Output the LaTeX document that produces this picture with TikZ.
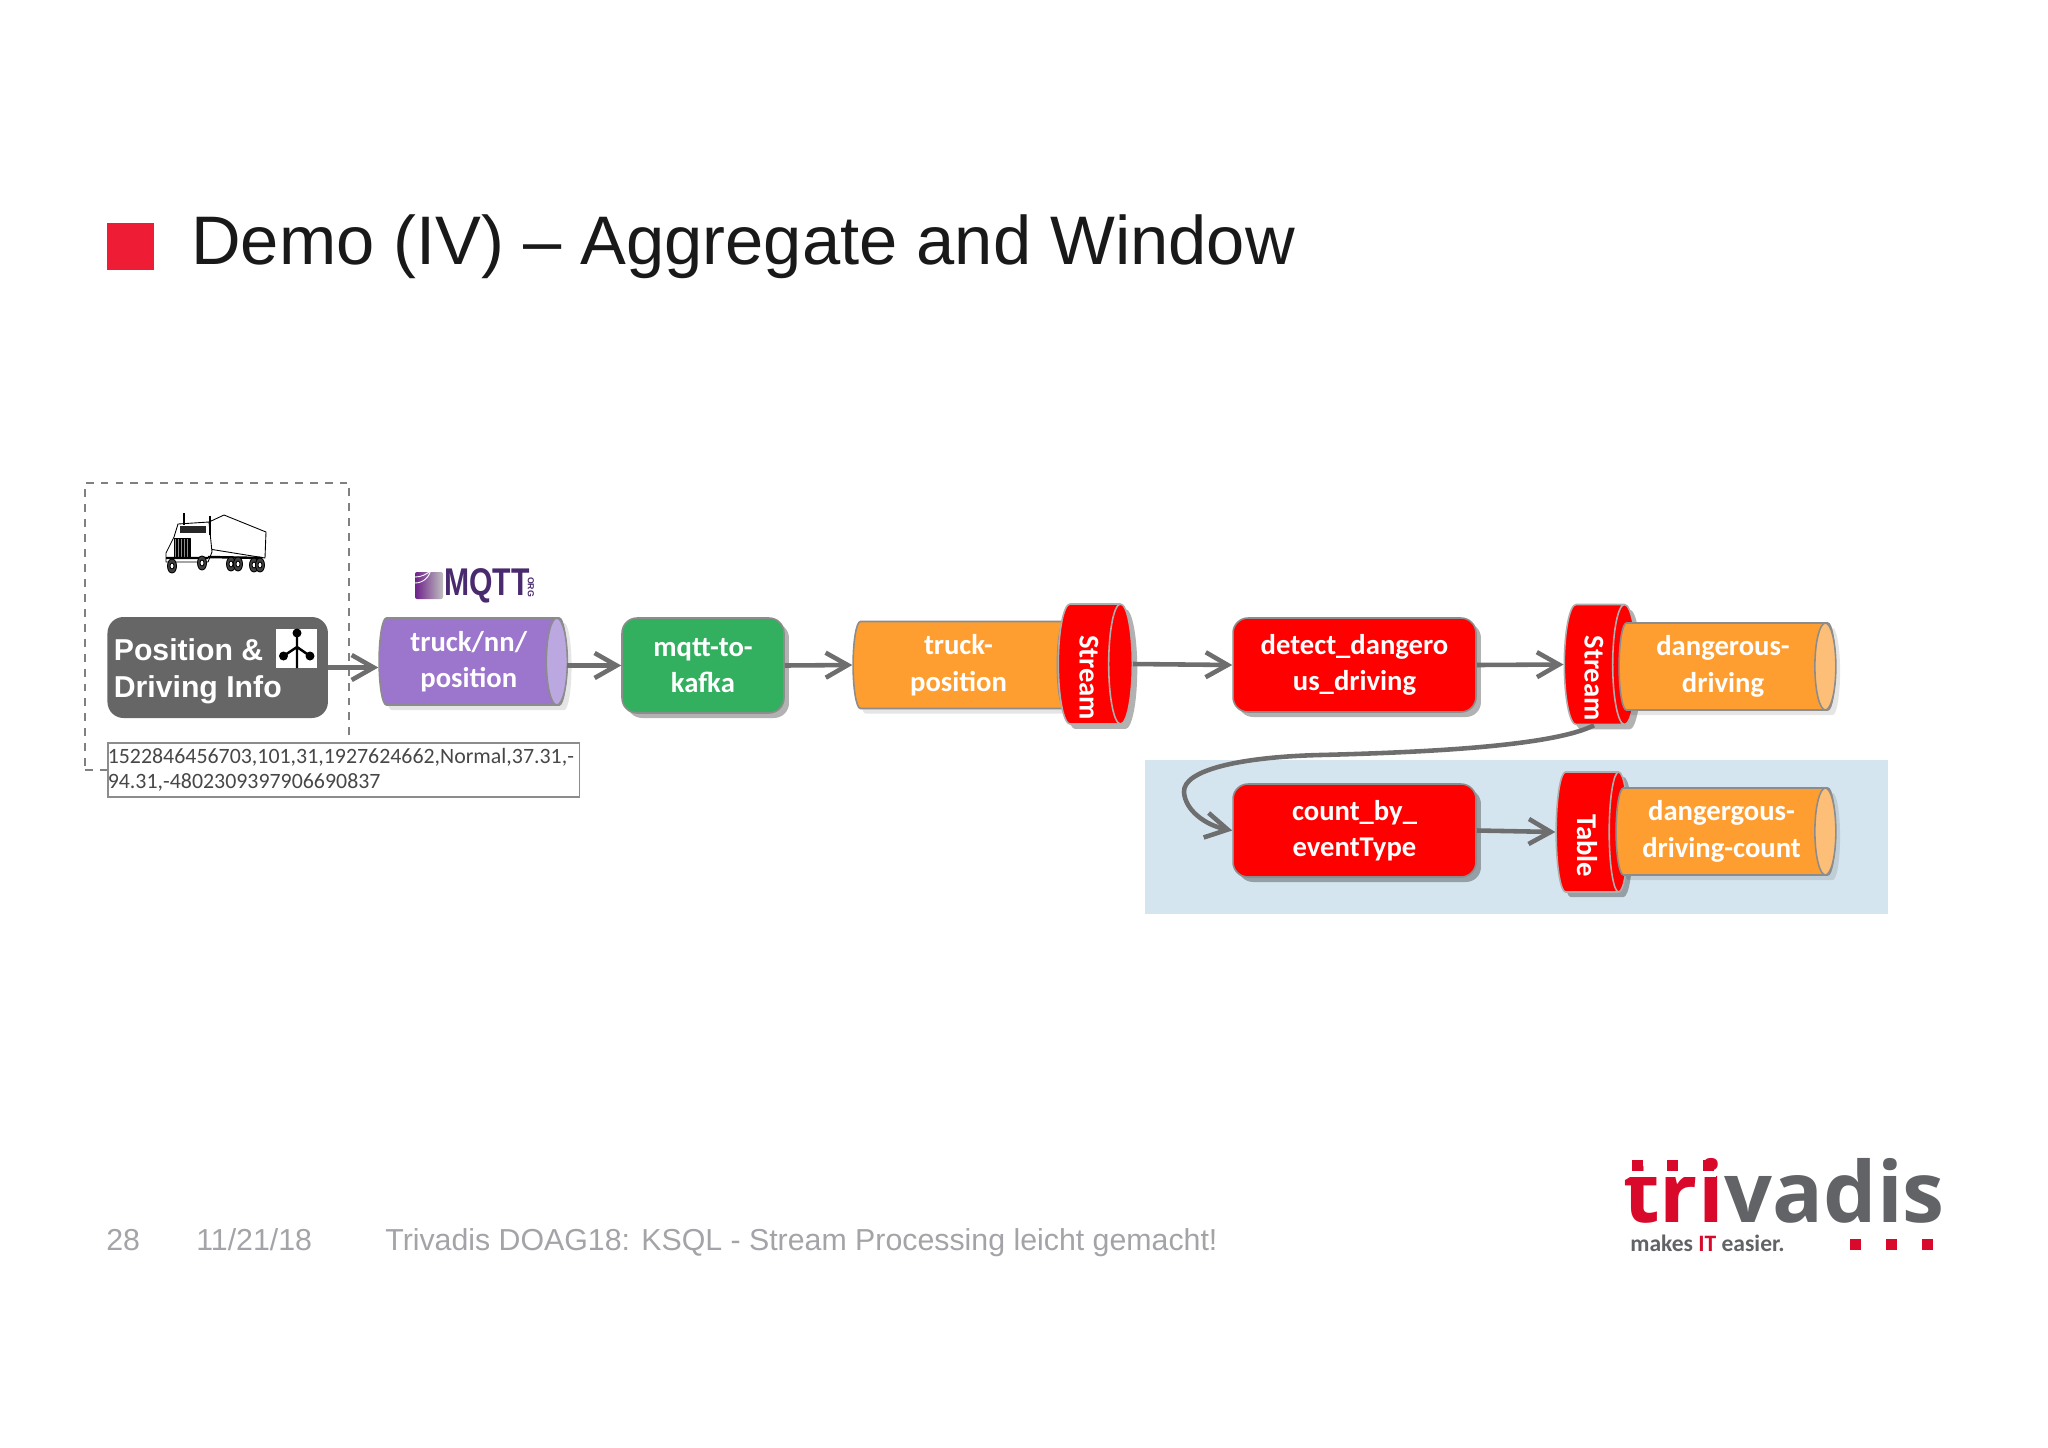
\documentclass[tikz,border=0pt]{standalone}
\usepackage{fontspec}
\setmainfont{Carlito}
\newfontfamily\slidefont{Liberation Sans}
\newfontfamily\logofont{Open Sans}
\usetikzlibrary{fit}
\usetikzlibrary{calc}
\usetikzlibrary{positioning}
\usetikzlibrary{arrows.meta}
\usetikzlibrary{shadows}
\usetikzlibrary{shapes.geometric}
\definecolor{trired}{HTML}{EE1C35}
\definecolor{logored}{HTML}{D9092C}
\definecolor{logogray}{HTML}{626366}
\definecolor{footgray}{HTML}{A3A3A8}
\definecolor{edgegray}{HTML}{8C8C8C}
\definecolor{flowgray}{HTML}{6E6E6E}
\definecolor{paleblue}{HTML}{D5E5EF}
\definecolor{topicorange}{HTML}{FF9E30}
\definecolor{caporange}{HTML}{FDBF77}
\definecolor{topicpurple}{HTML}{9C75CC}
\definecolor{cappurple}{HTML}{BBA8E0}
\definecolor{procgreen}{HTML}{33B05F}
\definecolor{mqttpurple}{HTML}{4A2A6E}
\newcommand{\boxfont}{\bfseries\fontsize{16.3}{20.8}\selectfont}
\newcommand{\lowerstrut}{\rule{0pt}{15.5pt}}

\begin{document}
\begin{tikzpicture}[
  x=0.02cm, y=-0.02cm,
  softshadow/.style={drop shadow={shadow xshift=.1cm, shadow yshift=-.1cm, fill=black, opacity=.3}},
  faintshadow/.style={drop shadow={shadow xshift=.1cm, shadow yshift=-.1cm, fill=black, opacity=.1}},
  proc/.style={draw=edgegray, line width=.9pt, rectangle, rounded corners=.3cm, inner sep=0pt,
    align=center, text=white, font=\boxfont, softshadow, execute at begin node=\lowerstrut},
  topic/.style={cylinder, shape border rotate=0, draw=edgegray, line width=.9pt, inner sep=0pt,
    aspect=.24, minimum width=1.74cm, align=center, text=white, font=\boxfont, execute at begin node=\lowerstrut},
  orangetopic/.style={topic, fill=topicorange, faintshadow},
  redtopic/.style={topic, aspect=.21, minimum width=2.4cm, fill=red, draw=edgegray!70, softshadow},
  topiccap/.style={ellipse, draw=edgegray, line width=.9pt, inner sep=0pt, minimum width=.42cm, minimum height=1.74cm},
  flow/.style={draw=flowgray, line width=2.6pt, -{Straight Barb[length=.44cm, width=.5cm]}},
  foot/.style={anchor=base west, inner sep=0pt, text=footgray, font=\slidefont\fontsize{17.25}{21}\selectfont},
  logotext/.style={anchor=base west, inner sep=0pt, font=\logofont\bfseries\fontsize{48}{48}\selectfont},
]
\useasboundingbox (0,0) rectangle (2048,1447);

% title
\node (bullet) [fill=trired, inner sep=0pt, fit={(107,223) (154,270)}] {};
\node (title) [anchor=base west, inner sep=0pt, font=\slidefont\fontsize{39.1}{47}\selectfont, text=black!90] at (191,264)
  {Demo (IV) – Aggregate and Window};

% blue area for the table
\node (tablearea) [fill=paleblue, inner sep=0pt, fit={(1145,760) (1888,914)}] {};

% truck and source
\node (truckarea) [draw=black!50, line width=.9pt, dash pattern=on 4.5pt off 4pt, inner sep=0pt, fit={(85,483) (349,770)}] {};
\begin{scope}[line width=.5pt, black, line join=round]
  \draw[fill=white] (224,515) -- (266,532) -- (265,558) -- (209,549) -- (209,522) -- cycle;
  \draw[fill=white] (174,537) -- (178,524) -- (209,522) -- (212,552) -- (208,562) -- (166,562) -- (166,553) -- cycle;
  \fill[black!85] (180,526) rectangle (206,533);
  \draw[fill=black!45] (174,538) rectangle (190,557);
  \foreach \gx in {177,180,...,189} {
    \draw[line width=.6pt] (\gx,538) -- (\gx,557);
  }
  \draw[line width=1pt] (184,513) -- (184,525) (210,516) -- (210,535);
  \draw[line width=1.4pt] (166,558) -- (208,558) (208,557) -- (262,558);
  \foreach \wx/\wy in {172/566, 202/563, 231/564, 238/564, 254/565, 260/565} {
    \draw[fill=black!75] (\wx,\wy) ellipse [x radius=.09cm, y radius=.14cm];
    \draw[fill=white] (\wx,\wy) ellipse [x radius=.04cm, y radius=.06cm];
  }
\end{scope}

% sample record
\node (sample) [draw=black!45, line width=.9pt, fill=white, anchor=north west, inner xsep=0pt, inner ysep=.04cm, minimum height=1.08cm,
  text width=9.44cm, align=left, text=black!72, font=\fontsize{12.45}{13.7}\selectfont] at (107,742)
  {1522846456703,101,31,1927624662,Normal,37.31,-\\94.31,-4802309397906690837};

% position box with its small sensor icon
\node (info) [fill=black!60, rounded corners=.32cm, inner sep=0pt, minimum width=4.41cm, minimum height=2.02cm] at (217.7,667.5) {};
\node (infotext) [anchor=base west, inner sep=0pt, align=left, text=white, font=\slidefont\bfseries\fontsize{17.2}{21}\selectfont] at (113.5,697)
  {Position \&\\Driving Info};
\node (icon) [fill=white, inner sep=0pt, fit={(276,629) (317,668)}] {};
\draw[line width=1.4pt] (297,633) -- (297,668) (283.5,656) -- (297,647) -- (310,656);
\foreach \dx/\dy in {297/633, 283.5/656, 310/656} {
  \fill (\dx,\dy) circle (.09cm);
}

% mqtt logo
\shade[left color=mqttpurple!80!magenta, right color=black!25, rounded corners=.04cm] (415,572) rectangle (443,599);
\draw[white, line width=.5pt] (415,583) arc (90:0:16) (415,577) arc (90:0:22);
\node (mqttname) [inner sep=0pt, text=mqttpurple, font=\slidefont\bfseries\fontsize{22}{22}\selectfont] at (487,586) {\scalebox{.78}[1]{MQTT}};
\node (mqttorg) [inner sep=0pt, text=mqttpurple, font=\slidefont\bfseries\fontsize{5}{5}\selectfont] at (531,587) {\rotatebox{-90}{ORG}};

% first row
\node (mqtt) [topic, fill=topicpurple, faintshadow, minimum height=3.75cm] at (468.75,661.5) {truck/nn/\\position};
\node (mqttcap) [topiccap, fill=cappurple] at ($(mqtt.east)+(-10.5,0)$) {};
\node (kafka) [proc, fill=procgreen, minimum width=3.24cm, minimum height=1.9cm] at (703,665.5) {mqtt-to-\\kafka};
\node (truckpos) [orangetopic, minimum height=4.38cm] at (958.5,665) {truck-\\position};
\node (stream) [redtopic, minimum height=1.48cm] at (1089,664) {\rotatebox{-90}{Stream}};
\node (detect) [proc, fill=red, minimum width=4.86cm, minimum height=1.88cm] at (1354.5,665) {detect\_dangero\\us\_driving};
\node (streamb) [redtopic, minimum height=1.44cm] at (1594,664.5) {\rotatebox{-90}{Stream}};
\node (dangerous) [orangetopic, minimum height=4.32cm] at (1723,666.5) {dangerous-\hspace{.2cm}\\driving\hspace{.2cm}};
\node (dangerouscap) [topiccap, fill=caporange] at ($(dangerous.east)+(-10.5,0)$) {};

% second row
\node (count) [proc, fill=red, minimum width=4.86cm, minimum height=1.86cm] at (1354.5,830.5) {count\_by\_\\eventType};
\node (table) [redtopic, minimum height=1.44cm] at (1587,832) {\rotatebox{-90}{Table}};
\node (dangercount) [orangetopic, minimum height=4.38cm] at (1721.5,831.5) {dangergous-\\driving-count};
\node (dangercountcap) [topiccap, fill=caporange] at ($(dangercount.east)+(-10.5,0)$) {};

% connectors
\draw[flow] (info.east) -- (info.east -| mqtt.west);
\draw[flow] (mqtt.east |- kafka.west) -- (kafka.west);
\draw[flow] (kafka.east) -- (truckpos.west);
\draw[flow] (stream.east) -- (detect.west);
\draw[flow] (detect.east) -- (streamb.west);
\draw[flow] (count.east) -- (table.west);
\draw[flow] (streamb.south) .. controls (1555,745) and (1440,752) .. (1320,755)
  .. controls (1240,757) and (1183,770) .. (1184,792)
  .. controls (1185,810) and (1205,825) .. (count.west);

% footer
\node (pageno) [foot] at (106,1250) {28};
\node (datum) [foot] at (196,1250) {11/21/18};
\node (talk) [foot] at (385,1250) {Trivadis DOAG18: KSQL - Stream Processing leicht gemacht!};

% logo
\node (logotri) [logotext, text=logored] at (1623,1222) {tri};
\node (logovadis) [logotext, text=logogray] at (logotri.base east) {vadis};
\fill[white] (1623,1171) rectangle (1716,1177);
\foreach \sx in {1632,1667,1703} {
  \fill[logored] (\sx,1160) rectangle ++(11,11);
}
\node (slogan) [anchor=base west, inner sep=0pt, text=logogray, font=\bfseries\fontsize{13.4}{15}\selectfont] at (1630,1251)
  {makes \textcolor{logored}{IT} easier.};
\foreach \sx in {1850,1886,1922} {
  \fill[logored] (\sx,1239) rectangle ++(11,11);
}
\end{tikzpicture}
\end{document}
